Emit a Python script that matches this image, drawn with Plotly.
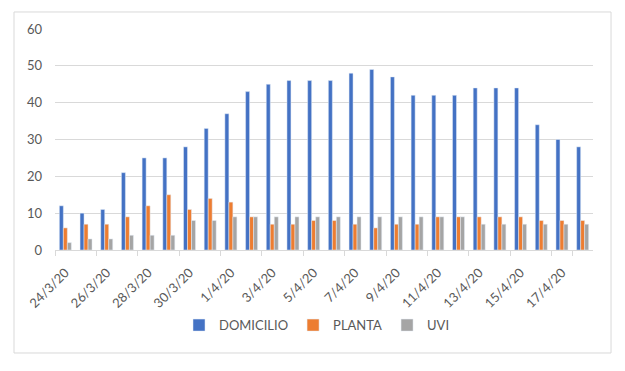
import plotly.graph_objects as go

dates = ["24/3/20","25/3/20","26/3/20","27/3/20","28/3/20","29/3/20","30/3/20","31/3/20",
         "1/4/20","2/4/20","3/4/20","4/4/20","5/4/20","6/4/20","7/4/20","8/4/20","9/4/20",
         "10/4/20","11/4/20","12/4/20","13/4/20","14/4/20","15/4/20","16/4/20","17/4/20","18/4/20"]
domicilio = [12,10,11,21,25,25,28,33,37,43,45,46,46,46,48,49,47,42,42,42,44,44,44,34,30,28]
planta = [6,7,7,9,12,15,11,14,13,9,7,7,8,8,7,6,7,7,9,9,9,9,9,8,8,8]
uvi = [2,3,3,4,4,4,8,8,9,9,9,9,9,9,9,9,9,9,9,9,7,7,7,7,7,7]

fig = go.Figure()
fig.add_trace(go.Bar(x=dates, y=domicilio, name="DOMICILIO", marker_color="#4472C4"))
fig.add_trace(go.Bar(x=dates, y=planta, name="PLANTA", marker_color="#ED7D31"))
fig.add_trace(go.Bar(x=dates, y=uvi, name="UVI", marker_color="#A5A5A5"))

font_family = "Lato, Open Sans, sans-serif"
fig.update_layout(
    width=609, height=355,
    margin=dict(l=47, r=24, t=21, b=113),
    paper_bgcolor="white", plot_bgcolor="white",
    barmode="group", bargap=0.42, bargroupgap=0,
    font=dict(family=font_family, color="#595959", size=13),
    showlegend=True,
    legend=dict(orientation="h", x=0.487, xanchor="center", y=-0.34, yanchor="middle",
                font=dict(size=13, color="#595959"), itemwidth=30, traceorder="normal"),
    xaxis=dict(type="category", tickangle=-45, tickmode="array",
               tickvals=dates[::2], ticktext=dates[::2],
               ticks="outside", tickson="boundaries", ticklen=5, tickcolor="#D9D9D9",
               showline=True, linecolor="#D9D9D9", linewidth=1,
               showgrid=False, tickfont=dict(size=13, color="#595959"),
               ticklabelstandoff=9),
    yaxis=dict(range=[0, 60], dtick=10, showgrid=True, gridcolor="#D9D9D9", gridwidth=1,
               zeroline=False, showline=False, ticks="", tickfont=dict(size=13, color="#595959"),
               ticklabelstandoff=12),
    shapes=[dict(type="rect", xref="paper", yref="paper",
                 x0=-0.0762, x1=1.0335, y0=-0.466, y1=1.077,
                 line=dict(color="#D9D9D9", width=1), fillcolor="rgba(0,0,0,0)", layer="below")],
)

fig.write_html("out.html")
